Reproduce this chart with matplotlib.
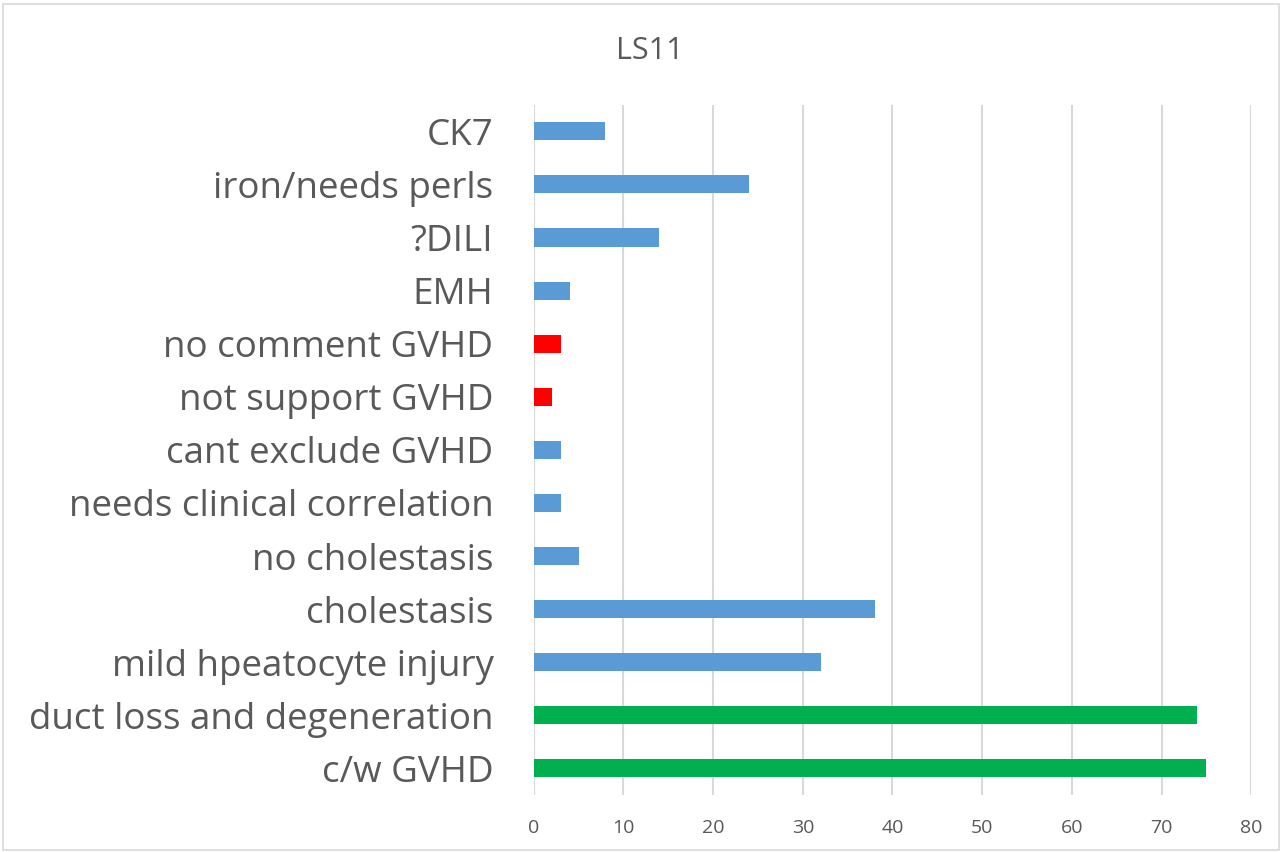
import matplotlib.pyplot as plt

# categories from bottom to top
categorias = ['c/w GVHD', 'duct loss and degeneration', 'mild hpeatocyte injury',
              'cholestasis', 'no cholestasis', 'needs clinical correlation',
              'cant exclude GVHD', 'not support GVHD', 'no comment GVHD',
              'EMH', '?DILI', 'iron/needs perls', 'CK7']
valores = [75, 74, 32, 38, 5, 3, 3, 2, 3, 4, 14, 24, 8]
grupo = ['g', 'g', 'b', 'b', 'b', 'b', 'b', 'r', 'r', 'b', 'b', 'b', 'b']
colores = {'b': '#5B9BD5', 'r': '#FF0000', 'g': '#00B050'}
ticks_x = [0, 10, 20, 30, 40, 50, 60, 70, 80]

plt.rcParams['font.family'] = ['Open Sans', 'DejaVu Sans']
gris = '#595959'

fig = plt.figure(figsize=(12.82, 8.52), dpi=100)
ax = fig.add_axes([0.4163, 0.067, 0.976 - 0.4163, 0.877 - 0.067])
pos = list(range(len(categorias)))
ax.barh(pos, valores, height=0.34, color=[colores[g] for g in grupo], zorder=3)

ax.set_xlim(0, 80)
ax.set_ylim(-0.5, len(categorias) - 0.5)
ax.set_xticks(ticks_x)
ax.set_yticks(pos)
ax.set_yticklabels(categorias, fontsize=26.5, color=gris)
ax.tick_params(axis='x', labelsize=14, colors=gris, length=0, pad=17)
ax.tick_params(axis='y', length=0, pad=29)
ax.grid(axis='x', color='#D9D9D9', linewidth=1.5, zorder=0)
for s in ax.spines.values():
    s.set_visible(False)

fig.text(0.507, 0.94, 'LS11', ha='center', va='center', fontsize=22, color=gris)
# light border around the chart area
fig.patches.append(plt.Rectangle((0.002, 0.002), 0.996, 0.993, transform=fig.transFigure,
                                 fill=False, edgecolor='#D9D9D9', linewidth=1.2))
plt.savefig('out.png')
